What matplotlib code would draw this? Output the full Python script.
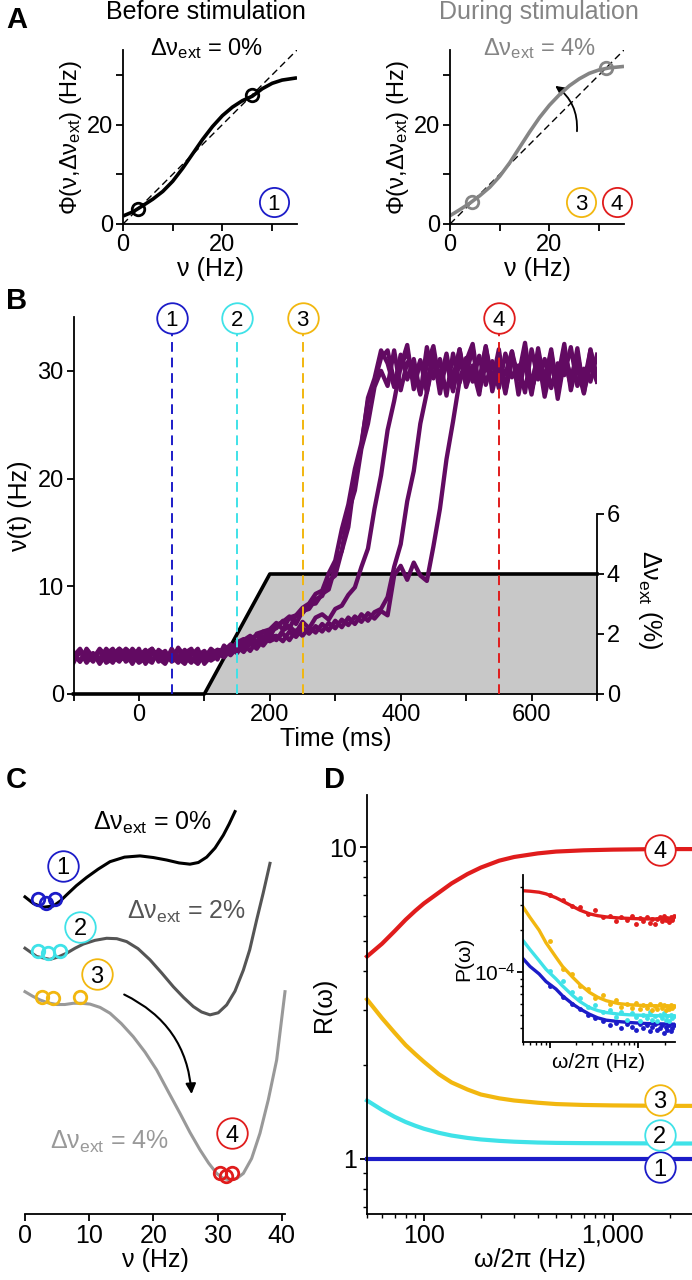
#!/usr/bin/env python3
"""
Bistable rate network: transfer functions (A), switching traces (B),
energy landscapes (C) and linear response (D)
"""

import matplotlib
matplotlib.use('Agg')
import matplotlib.pyplot as plt
from matplotlib.patches import FancyArrowPatch
from matplotlib.ticker import LogLocator, NullFormatter, FixedLocator, FixedFormatter
import numpy as np

plt.rcParams['font.family'] = ['Liberation Sans', 'DejaVu Sans']
plt.rcParams['mathtext.fontset'] = 'custom'
plt.rcParams['mathtext.rm'] = 'Liberation Sans'
plt.rcParams['mathtext.it'] = 'Liberation Sans:italic'
plt.rcParams['mathtext.bf'] = 'Liberation Sans:bold'
plt.rcParams['axes.linewidth'] = 1.3
for k in ['xtick', 'ytick']:
    plt.rcParams[k + '.major.width'] = 1.3
    plt.rcParams[k + '.minor.width'] = 1.0
    plt.rcParams[k + '.major.size'] = 5
    plt.rcParams[k + '.minor.size'] = 3

BLUE = '#1c1cc8'
CYAN = '#3fe2e8'
ORANGE = '#f2b70f'
RED = '#e01c1c'
PURPLE = '#620a62'
DGRAY = '#555555'
LGRAY = '#999999'
AGRAY = '#858585'

# ---------------- data ----------------
# A: transfer functions Phi(nu)
nu_a = [0, 2, 4, 6, 8, 10, 12, 14, 16, 18, 20, 22, 24, 26, 28, 30, 32, 35]
phi_before = [1.6, 2.45, 3.7, 5.0, 6.55, 8.6, 11.2, 14.1, 17.0, 19.6, 21.8, 23.5,
              24.8, 25.7, 27.2, 28.3, 28.95, 29.4]
phi_during = [1.67, 2.9, 4.2, 5.7, 7.4, 9.6, 12.3, 15.4, 18.5, 21.4, 23.9, 26.0,
              27.8, 29.2, 30.3, 31.0, 31.4, 31.7]
fixed_before = [3.1, 25.9]
fixed_during = [4.5, 31.3]

# B: firing-rate traces (Hz), sampled every 10 ms from -100 to 700 ms
time_b = np.arange(-100, 701, 10)
trace1 = [2.9, 4.1, 3.3, 3.8, 2.8, 3.7, 4.2, 3.1, 3.5, 4.0, 3.0, 3.7, 4.2, 3.3, 2.8, 3.9,
          3.4, 4.1, 3.1, 3.6, 4.0, 3.2, 4.1,
          4.0, 4.6, 4.1, 5.0, 5.4, 4.8, 5.8, 6.0, 6.6, 6.0, 7.1, 7.3, 8.0, 8.4, 9.3,
          9.6, 11.2, 12.4, 15.3, 17.6, 20.9, 23.3, 27.2, 29.0, 31.2,
          31.9, 29.0, 30.4, 32.4, 28.3, 30.9, 28.8, 31.7, 27.9, 31.1, 29.4, 32.0, 28.5,
          30.3, 29.1, 32.3, 28.1, 30.6, 29.7, 31.8, 27.8, 31.0, 28.9, 31.4, 27.6, 30.5,
          29.3, 32.5, 28.2, 30.8, 28.9, 31.9, 29.5]
trace2 = [3.9, 3.0, 4.2, 3.4, 4.0, 2.9, 3.3, 4.2, 3.7, 2.8, 3.9, 3.3, 2.9, 4.1, 3.6, 3.1,
          4.3, 3.5, 2.9, 3.9, 3.3, 4.2, 3.7,
          3.6, 4.2, 4.7, 4.2, 5.2, 5.4, 4.9, 5.9, 6.1, 6.8, 6.1, 7.3, 7.5, 8.3, 8.4,
          9.3, 9.7, 11.8, 13.3, 16.9, 18.9, 22.8, 25.1, 28.5, 30.0,
          28.6, 31.9, 28.2, 30.8, 30.2, 27.8, 32.2, 29.3, 31.1, 27.7, 31.6, 28.9, 30.9,
          32.5, 28.4, 30.5, 29.0, 32.0, 28.1, 31.3, 29.5, 32.6, 28.3, 30.4, 29.1, 31.7,
          27.4, 31.0, 28.7, 32.1, 28.0, 30.6, 29.8]
trace3 = [3.3, 4.0, 2.9, 3.7, 3.2, 4.2, 3.5, 3.0, 4.1, 3.3, 4.2, 2.8, 3.7, 3.5, 4.0, 3.0,
          3.4, 3.8, 4.2, 3.1, 3.5, 4.0, 3.2,
          4.5, 3.9, 4.8, 5.1, 4.6, 5.6, 5.8, 5.3, 6.4, 6.7, 7.2, 6.5, 7.7, 7.9, 8.8,
          9.1, 10.5, 11.0, 13.3, 15.5, 20.1, 23.0, 27.5, 29.3, 31.9,
          30.7, 28.5, 31.5, 29.2, 31.1, 27.9, 30.5, 32.3, 28.6, 30.9, 28.3, 31.7, 29.6,
          30.2, 27.8, 31.9, 29.0, 31.0, 28.4, 31.4, 29.4, 30.6, 28.1, 32.1, 28.8, 30.8,
          28.5, 31.6, 29.5, 30.3, 27.9, 32.0, 29.0]
trace4 = [3.7, 3.0, 4.1, 3.3, 4.2, 3.5, 2.9, 3.9, 3.1, 4.2, 3.5, 4.1, 3.1, 3.7, 2.9, 4.2,
          3.3, 2.8, 3.9, 3.5, 3.0, 3.7, 4.1,
          3.6, 4.3, 3.8, 4.7, 4.9, 4.4, 5.3, 5.5, 5.0, 5.9, 6.3, 5.7, 6.7, 6.1, 7.1,
          7.4, 6.9, 7.9, 8.2, 9.2, 9.9, 11.8, 13.5, 17.2, 20.3,
          24.5, 27.2, 30.4, 31.8, 28.9, 31.0, 28.0, 31.4, 29.5, 30.8, 28.1, 32.0, 28.8,
          30.5, 28.4, 32.2, 29.2, 30.9, 27.9, 31.2, 29.6, 31.6, 28.3, 30.3, 29.0, 32.0,
          28.0, 31.1, 29.3, 31.5, 28.6, 30.6, 29.0]
trace5 = [3.1, 3.9, 3.6, 3.0, 4.1, 3.3, 3.7, 4.2, 3.0, 3.5, 3.1, 3.8, 4.2, 3.0, 3.7, 3.3,
          4.1, 3.1, 3.6, 4.2, 2.8, 3.5, 3.8,
          3.4, 4.1, 4.4, 3.9, 4.7, 4.2, 5.1, 4.9, 5.2, 5.6, 5.0, 5.9, 5.4, 6.2, 5.7,
          6.5, 5.9, 6.8, 6.2, 7.1, 6.5, 7.4, 6.8, 7.6, 7.9,
          9.0, 11.8, 13.9, 17.9, 20.7, 25.1, 28.0, 30.9, 29.0, 31.6, 28.3, 30.7, 29.6,
          32.1, 28.1, 31.1, 28.9, 30.4, 28.5, 31.8, 29.2, 30.8, 27.8, 31.3, 29.6, 30.6,
          28.2, 31.9, 29.1, 31.0, 28.4, 31.5, 29.3]
trace6 = [3.5, 4.2, 3.0, 3.7, 3.3, 4.0, 3.1, 3.5, 4.2, 3.7, 2.9, 3.3, 4.0, 3.8, 3.1, 3.5,
          2.9, 4.0, 3.3, 2.8, 3.7, 3.1, 3.5,
          4.1, 3.6, 4.3, 4.6, 4.0, 4.9, 4.5, 5.3, 5.4, 4.9, 5.8, 5.3, 6.1, 5.6, 6.3,
          5.8, 6.6, 6.1, 6.9, 6.4, 7.2, 6.7, 7.5, 7.0, 7.7,
          7.3, 11.0, 11.9, 10.6, 12.2, 11.0, 10.5, 13.7, 17.2, 21.8, 25.3, 29.1, 31.2,
          29.0, 31.4, 28.7, 30.9, 28.4, 31.6, 29.4, 30.5, 28.0, 32.0, 29.2, 31.1, 28.4,
          30.7, 29.6, 32.2, 28.6, 30.2, 29.0, 31.5]
traces = [trace1, trace2, trace3, trace4, trace5, trace6]

stim_t = [-100, 100, 200, 700]
stim_pct = [0, 0, 4, 4]

mark_t = [50, 150, 250, 550]
mark_lbl = ['1', '2', '3', '4']
mark_col = [BLUE, CYAN, ORANGE, RED]

# C: energy landscapes (arbitrary units)
nu_c0 = [0, 1.3, 2.85, 4.41, 5.5, 6.49, 8, 9.6, 11.4, 13.24, 15.5, 17.91, 20, 22.07,
         24, 25.7, 27, 28.3, 29.6, 30.89, 31.8, 32.71]
U_c0 = [76.6, 75.0, 74.1, 74.4, 75.6, 77.1, 79.3, 81.3, 83.3, 85.1, 86.2, 86.5, 86.1,
        85.5, 84.8, 84.5, 84.9, 86.2, 88.4, 91.5, 94.2, 97.2]
nu_c2 = [0, 1.82, 3.89, 5.2, 6.49, 7.8, 9.08, 10.9, 12.72, 14.3, 15.83, 17.6, 19.47,
         21.3, 23.1, 24.7, 26.22, 27.5, 28.82, 30.1, 31.41, 32.7, 34.01, 35.0, 36.08,
         37.1, 38.16]
U_c2 = [64.2, 62.2, 61.5, 62.1, 63.0, 64.2, 65.2, 66.1, 66.6, 66.5, 65.8, 64.1, 61.4,
        58.2, 54.9, 52.3, 50.1, 48.8, 48.1, 48.6, 50.5, 53.8, 58.9, 63.8, 71.0, 77.5, 84.7]
nu_c4 = [0, 1.2, 2.34, 3.6, 4.93, 6.2, 7.53, 8.8, 10.13, 11.7, 13.24, 15.0, 16.88, 18.7,
         20.51, 22.3, 24.15, 25.7, 27.26, 28.6, 29.86, 30.9, 31.93, 33.0, 34.01, 35.3,
         36.6, 37.9, 39.2, 40.5]
U_c4 = [53.7, 52.6, 51.7, 51.0, 50.6, 50.6, 50.9, 50.9, 50.7, 49.9, 48.5, 46.0, 42.8,
        39.1, 34.8, 29.6, 24.3, 19.7, 15.5, 12.3, 9.8, 8.6, 8.2, 8.6, 9.8, 13.4, 19.5,
        27.6, 37.2, 53.7]
balls_nu = [[2.08, 3.27, 4.67], [2.08, 3.53, 5.45], [2.6, 4.41, 8.56], [30.4, 31.3, 32.3]]
balls_U = [[76.0, 75.2, 76.0], [63.5, 63.0, 63.5], [52.5, 52.1, 52.5], [9.8, 9.2, 9.8]]

# D: linear response R(omega)
freq_d = [50, 60, 70, 80, 90, 100, 120, 140, 170, 200, 250, 300, 400, 500, 700, 1000,
          1500, 2000, 2600]
R_1 = [1.0] * len(freq_d)
R_2 = [1.54, 1.437, 1.365, 1.314, 1.278, 1.25, 1.213, 1.189, 1.168, 1.155, 1.143,
       1.136, 1.129, 1.126, 1.124, 1.123, 1.122, 1.121, 1.121]
R_3 = [3.25, 2.83, 2.54, 2.32, 2.17, 2.05, 1.87, 1.76, 1.67, 1.61, 1.565, 1.54, 1.515,
       1.50, 1.49, 1.485, 1.482, 1.48, 1.48]
R_4 = [4.46, 4.9, 5.38, 5.85, 6.25, 6.6, 7.15, 7.65, 8.2, 8.6, 9.05, 9.3, 9.55, 9.68,
       9.77, 9.82, 9.85, 9.86, 9.86]

# D inset: power spectra
freq_in = [5, 6, 7.6, 9.1, 11.8, 14, 18.3, 22, 28.2, 35, 43.8, 60, 80, 120, 261]
P_1 = [1.25e-4, 1.1e-4, 9.74e-5, 8.6e-5, 7.6e-5, 6.8e-5, 5.94e-5, 5.5e-5, 5.04e-5,
       4.75e-5, 4.57e-5, 4.47e-5, 4.4e-5, 4.33e-5, 4.28e-5]
P_2 = [1.68e-4, 1.45e-4, 1.21e-4, 1.05e-4, 8.97e-5, 8.0e-5, 6.82e-5, 6.2e-5, 5.62e-5,
       5.35e-5, 5.18e-5, 5.05e-5, 4.99e-5, 4.94e-5, 4.9e-5]
P_3 = [2.91e-4, 2.45e-4, 1.99e-4, 1.62e-4, 1.28e-4, 1.1e-4, 9.2e-5, 8.2e-5, 7.2e-5,
       6.65e-5, 6.28e-5, 6.0e-5, 5.88e-5, 5.8e-5, 5.75e-5]
P_4 = [3.79e-4, 3.76e-4, 3.7e-4, 3.6e-4, 3.38e-4, 3.2e-4, 2.93e-4, 2.76e-4, 2.6e-4,
       2.52e-4, 2.47e-4, 2.43e-4, 2.41e-4, 2.39e-4, 2.39e-4]
dot_f = [10, 14, 18, 22, 27, 33, 40, 48, 56, 65, 75, 85, 95, 105, 115, 125, 135, 145,
         155, 165, 175, 185, 195, 205, 215, 225, 235, 245, 255]
dots_1 = [8.0e-5, 6.7e-5, 6.0e-5, 5.5e-5, 5.0e-5, 4.7e-5, 4.5e-5, 4.2e-5, 4.4e-5, 4.0e-5,
          4.3e-5, 4.1e-5, 3.9e-5, 4.3e-5, 4.0e-5, 4.2e-5, 3.8e-5, 4.1e-5, 4.3e-5, 3.9e-5,
          4.0e-5, 4.2e-5, 3.7e-5, 4.1e-5, 3.9e-5, 4.2e-5, 3.8e-5, 4.0e-5, 4.2e-5]
dots_2 = [1.02e-4, 8.6e-5, 7.2e-5, 6.6e-5, 5.7e-5, 5.9e-5, 5.2e-5, 5.4e-5, 4.8e-5,
          5.2e-5, 4.6e-5, 5.1e-5, 4.8e-5, 4.5e-5, 5.0e-5, 4.7e-5, 5.2e-5, 4.6e-5, 4.9e-5,
          4.5e-5, 5.0e-5, 4.7e-5, 5.1e-5, 4.6e-5, 4.9e-5, 4.5e-5, 5.0e-5, 4.7e-5, 4.9e-5]
dots_3 = [1.67e-4, 1.05e-4, 9.8e-5, 8.0e-5, 7.6e-5, 6.6e-5, 6.9e-5, 6.0e-5, 6.4e-5,
          5.7e-5, 6.0e-5, 5.6e-5, 6.1e-5, 5.5e-5, 5.9e-5, 5.6e-5, 6.0e-5, 5.4e-5, 5.8e-5,
          5.5e-5, 6.0e-5, 5.6e-5, 5.9e-5, 5.4e-5, 5.8e-5, 5.5e-5, 5.9e-5, 5.6e-5, 5.8e-5]
dots_4 = [3.55e-4, 3.25e-4, 2.95e-4, 2.9e-4, 2.6e-4, 2.75e-4, 2.45e-4, 2.5e-4, 2.3e-4,
          2.48e-4, 2.35e-4, 2.5e-4, 2.2e-4, 2.42e-4, 2.3e-4, 2.47e-4, 2.25e-4, 2.4e-4,
          2.2e-4, 2.38e-4, 2.45e-4, 2.3e-4, 2.5e-4, 2.33e-4, 2.42e-4, 2.28e-4, 2.48e-4,
          2.36e-4, 2.52e-4]

# ---------------- figure ----------------
W, H = 692, 1280
fig = plt.figure(figsize=(W / 100, H / 100), dpi=100)


def add_ax(x0, x1, y0, y1):
    """axes from pixel box (left, right, top, bottom)"""
    return fig.add_axes([x0 / W, 1 - y1 / H, (x1 - x0) / W, (y1 - y0) / H])


def ftext(px, py, s, **kw):
    fig.text(px / W, 1 - py / H, s, **kw)


def circ(ax, x, y, s, c, fs=16, ms=22, z=6):
    ax.plot([x], [y], 'o', ms=ms, mfc='white', mec=c, mew=1.3, clip_on=False, zorder=z)
    ax.text(x, y, s, ha='center', va='center_baseline', fontsize=fs, zorder=z + 1,
            clip_on=False)


def clean(ax):
    ax.spines['top'].set_visible(False)
    ax.spines['right'].set_visible(False)


# panel letters
for lbl, px, py in [('A', 6, 6), ('B', 6, 287), ('C', 6, 766), ('D', 324, 766)]:
    ftext(px, py, lbl, fontsize=21, fontweight='bold', va='top', ha='left')

# ---- A ----
titles = [('Before stimulation', 206, 'black', '0%', phi_before, fixed_before),
          ('During stimulation', 539, AGRAY, '4%', phi_during, fixed_during)]
for i, (ttl, cx, col, pct, phi, fp) in enumerate(titles):
    x0 = 123 if i == 0 else 450
    ax = add_ax(x0, x0 + 174, 50, 224)
    clean(ax)
    ax.plot([0, 35], [0, 35], color='black', lw=1.0, dashes=(5, 3))
    ax.plot(nu_a, phi, color=col, lw=2.6, solid_capstyle='butt')
    ax.plot(fp, fp, 'o', ms=9, mfc='none', mec=col, mew=2)
    ax.set_xlim(0, 35)
    ax.set_ylim(0, 35)
    ax.set_xticks([0, 10, 20, 30])
    ax.set_xticklabels(['0', '', '20', ''])
    ax.set_yticks([0, 10, 20, 30])
    ax.set_yticklabels(['0', '', '20', ''])
    ax.tick_params(labelsize=17, pad=2)
    ax.set_xlabel('ν (Hz)', fontsize=18, labelpad=1)
    ax.set_ylabel(r'Φ(ν,Δν$_{\mathrm{ext}}$) (Hz)', fontsize=17, labelpad=2)
    ftext(cx, 12, ttl, fontsize=18, color=col, ha='center', va='center')
    ftext(cx, 55, r'Δν$_{\mathrm{ext}}$ = ' + pct, fontsize=17, color=col,
          ha='center', va='baseline')
    if i == 0:
        circ(ax, 30.3, 4.5, '1', BLUE, ms=21)
    else:
        circ(ax, 26.4, 4.5, '3', ORANGE, ms=21)
        circ(ax, 33.6, 4.5, '4', RED, ms=21)
        ax.add_patch(FancyArrowPatch((25.5, 18.1), (20.7, 28.1),
                                     connectionstyle='arc3,rad=0.3',
                                     arrowstyle='-|>', mutation_scale=14,
                                     lw=1.3, color='black'))

# ---- B ----
axb = add_ax(73.5, 597, 317, 694)
axs = axb.twinx()
axb.set_zorder(axs.get_zorder() + 1)
axb.patch.set_visible(False)

axs.fill_between(stim_t, stim_pct, 0, color='#c8c8c8', lw=0)
axs.plot(stim_t, stim_pct, color='black', lw=2.6, clip_on=False)
axs.set_ylim(0, 6 * 377 / 180)
axs.set_xlim(-100, 700)
for s in ['top', 'left', 'bottom']:
    axs.spines[s].set_visible(False)
axs.spines['right'].set_bounds(0, 6)
axs.set_yticks([0, 2, 4, 6])
axs.tick_params(labelsize=17, pad=2)
axs.set_ylabel(r'Δν$_{\mathrm{ext}}$ (%)', fontsize=18, rotation=270)
axs.yaxis.set_label_coords(1.128, 0.25)

for tr in traces:
    axb.plot(time_b, tr, color=PURPLE, lw=3.1, solid_joinstyle='round')
for t, lbl, c in zip(mark_t, mark_lbl, mark_col):
    axb.plot([t, t], [0, 33.4], color=c, lw=1.4, dashes=(5, 3), zorder=4)
    circ(axb, t, 34.9, lbl, c)
axb.set_xlim(-100, 700)
axb.set_ylim(0, 35)
clean(axb)
axb.set_xticks(range(-100, 701, 100))
axb.set_xticklabels(['', '0', '', '200', '', '400', '', '600', ''])
axb.set_yticks([0, 10, 20, 30])
axb.tick_params(labelsize=17, pad=2)
axb.set_xlabel('Time (ms)', fontsize=18, labelpad=1)
axb.set_ylabel('ν(t) (Hz)', fontsize=18, labelpad=4)

# ---- C ----
axc = add_ax(25, 285, 800, 1214)
for s in ['top', 'right', 'left']:
    axc.spines[s].set_visible(False)
axc.set_yticks([])
axc.set_xlim(0, 40.5)
axc.set_ylim(0, 100)
axc.spines['bottom'].set_bounds(0, 40.5)
axc.plot(nu_c0, U_c0, color='black', lw=2.2, clip_on=False)
axc.plot(nu_c2, U_c2, color=DGRAY, lw=2.2, clip_on=False)
axc.plot(nu_c4, U_c4, color=LGRAY, lw=2.2, clip_on=False)
for bn, bu, c in zip(balls_nu, balls_U, mark_col):
    axc.plot(bn, bu, 'o', ms=9, mfc='none', mec=c, mew=2, clip_on=False)
for (x, y), lbl, c in zip([(5.87, 84.1), (8.57, 69.4), (11.17, 57.9), (32.3, 19.5)],
                          mark_lbl, mark_col):
    circ(axc, x, y, lbl, c, fs=17, ms=22)
axc.text(19.9, 94.4, r'Δν$_{\mathrm{ext}}$ = 0%', fontsize=18, ha='center', va='center')
axc.text(25.2, 73.0, r'Δν$_{\mathrm{ext}}$ = 2%', fontsize=18, ha='center',
         va='center', color=DGRAY)
axc.text(13.2, 17.5, r'Δν$_{\mathrm{ext}}$ = 4%', fontsize=18, ha='center',
         va='center', color=LGRAY)
axc.add_patch(FancyArrowPatch((15.06, 53.3), (25.97, 28.3),
                              connectionstyle='arc3,rad=-0.3', arrowstyle='-|>',
                              mutation_scale=15, lw=1.5, color='black'))
axc.set_xticks([0, 10, 20, 30, 40])
axc.tick_params(labelsize=18, pad=2)
axc.set_xlabel('ν (Hz)', fontsize=18, labelpad=0)

# ---- D ----
axd = add_ax(367, 692, 795, 1214)
clean(axd)
axd.set_xscale('log')
axd.set_yscale('log')
for R, c in zip([R_1, R_2, R_3, R_4], mark_col):
    axd.plot(freq_d, R, color=c, lw=3.0, clip_on=False)
axd.set_xlim(50, 2620)
axd.set_ylim(0.666, 14.7)
axd.xaxis.set_major_locator(FixedLocator([100, 1000]))
axd.xaxis.set_major_formatter(FixedFormatter(['100', '1,000']))
axd.xaxis.set_minor_locator(LogLocator(base=10, subs=np.arange(2, 10)))
axd.xaxis.set_minor_formatter(NullFormatter())
axd.yaxis.set_major_locator(FixedLocator([1, 10]))
axd.yaxis.set_major_formatter(FixedFormatter(['1', '10']))
axd.yaxis.set_minor_locator(LogLocator(base=10, subs=np.arange(2, 10)))
axd.yaxis.set_minor_formatter(NullFormatter())
axd.tick_params(labelsize=18, pad=2)
axd.set_xlabel('ω/2π (Hz)', fontsize=18, labelpad=0)
axd.set_ylabel('R(ω)', fontsize=18)
axd.yaxis.set_label_coords(-0.095, 0.5)
for y, lbl, c in zip([0.94, 1.194, 1.55, 9.8], mark_lbl, mark_col):
    circ(axd, 1765, y, lbl, c, fs=17, ms=22)

# inset
axi = add_ax(523, 675, 875, 1042)
clean(axi)
axi.set_xscale('log')
axi.set_yscale('log')
for P, d, c in zip([P_1, P_2, P_3, P_4], [dots_1, dots_2, dots_3, dots_4], mark_col):
    axi.plot(dot_f, d, 'o', ms=3.5, color=c, mew=0)
    axi.plot(freq_in, P, color=c, lw=2.4)
axi.set_xlim(5, 262)
axi.set_ylim(3.2e-5, 4.9e-4)
axi.xaxis.set_major_locator(FixedLocator([10, 100]))
axi.xaxis.set_major_formatter(NullFormatter())
axi.xaxis.set_minor_locator(LogLocator(base=10, subs=np.arange(2, 10)))
axi.xaxis.set_minor_formatter(NullFormatter())
axi.yaxis.set_major_locator(FixedLocator([1e-4]))
axi.yaxis.set_major_formatter(FixedFormatter([r'10$^{-4}$']))
axi.yaxis.set_minor_locator(LogLocator(base=10, subs=np.arange(2, 10)))
axi.yaxis.set_minor_formatter(NullFormatter())
axi.tick_params(labelsize=15, pad=1)
axi.tick_params(which='major', length=4)
axi.tick_params(which='minor', length=2.5)
axi.set_xlabel('ω/2π (Hz)', fontsize=15, labelpad=2)
axi.set_ylabel('P(ω)', fontsize=15, labelpad=1)

fig.savefig('out.png', dpi=100)
